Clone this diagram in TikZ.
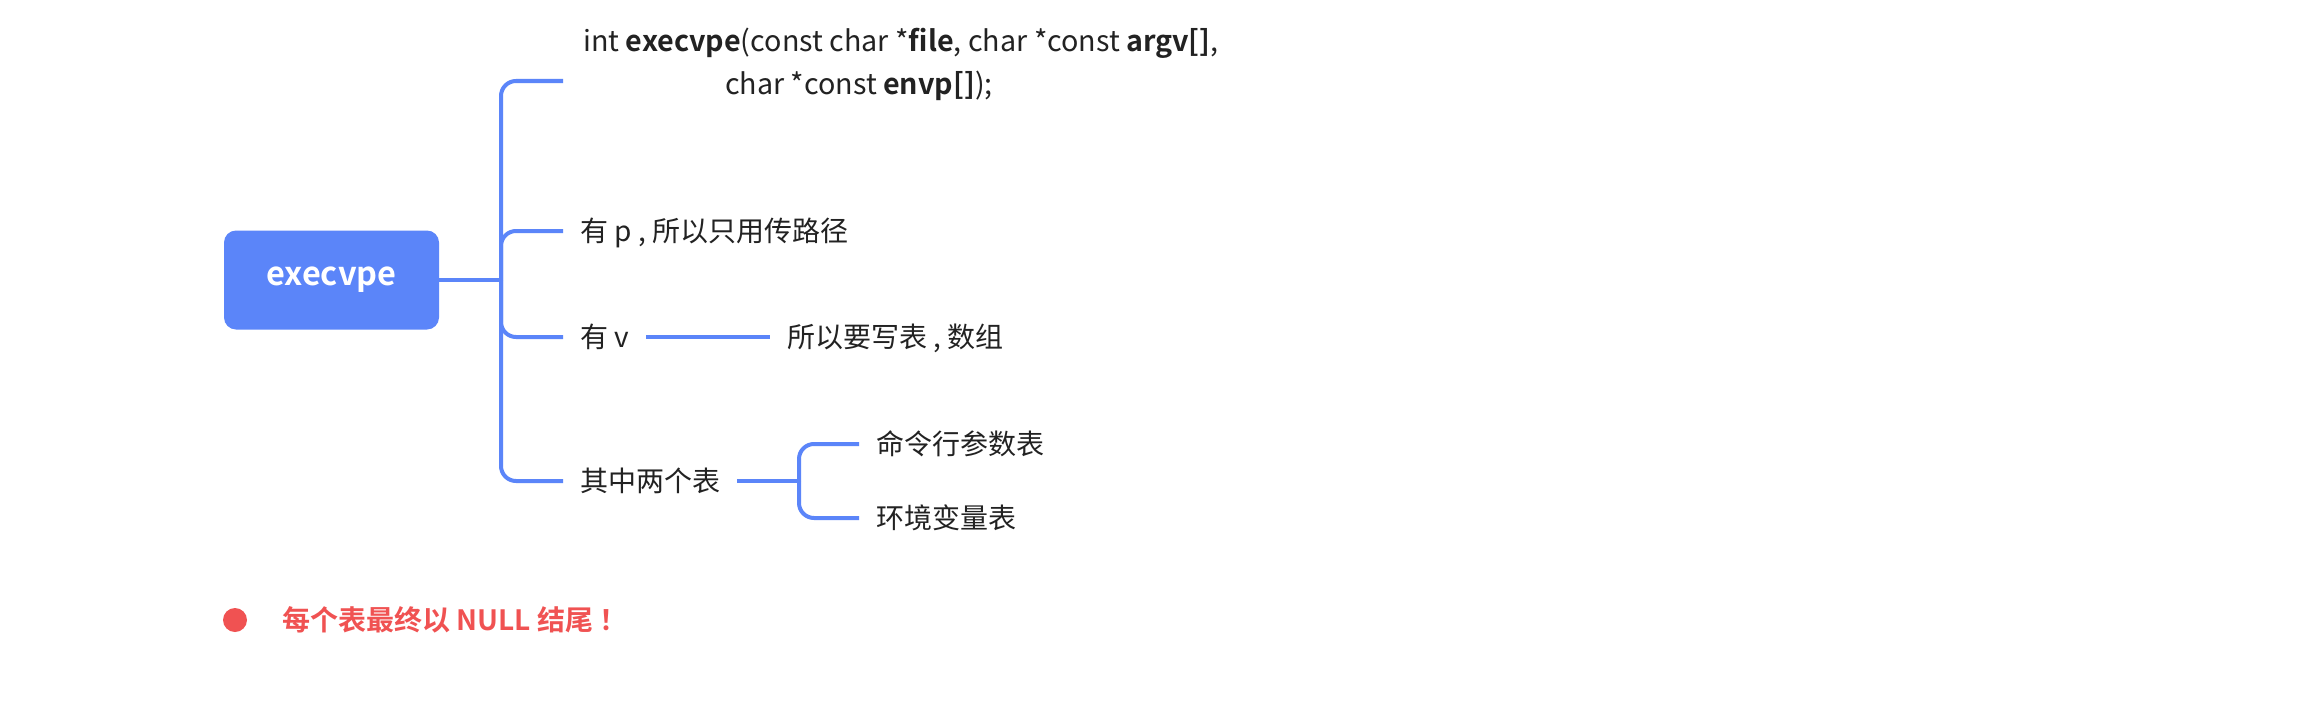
\documentclass[tikz,border=0pt]{standalone}
\usepackage{fontspec}
\setmainfont{Noto Sans CJK SC}[BoldFont={Noto Sans CJK SC Bold}]
\definecolor{mmblue}{HTML}{5B85F9}
\definecolor{mmred}{HTML}{F05252}
\definecolor{mmtext}{HTML}{222222}
\begin{document}
\begin{tikzpicture}[x=1pt,y=-1pt,
  conn/.style={draw=mmblue, line width=4pt, rounded corners=15pt},
  rootbox/.style={rectangle, rounded corners=12pt, fill=mmblue, text=white,
    font=\fontsize{32.5}{38}\selectfont\bfseries, minimum width=215pt, minimum height=99pt, inner sep=0pt},
  leaf/.style={anchor=west, inner xsep=17pt, inner ysep=0pt, text=mmtext,
    font=\fontsize{28}{42}\selectfont, text height=24pt, text depth=3pt},
  sig/.style={anchor=base west, inner sep=0pt, text=mmtext, align=left,
    font=\fontsize{28.7}{43}\selectfont},
  note/.style={anchor=west, inner sep=0pt, text=mmred, font=\fontsize{28}{34}\selectfont\bfseries}]
\useasboundingbox (0,0) rectangle (2305,701);
\fill[white] (0,0) rectangle (2305,701);
\node[rootbox] (root) at (331.5,280) {execvpe};
\coordinate (j) at (501,280);
\coordinate (c1) at (563,81);
\node[sig] (b1) at (583,94) {int \textbf{execvpe}(const char *\textbf{file}, char *const \textbf{argv[]},\\\hspace*{142pt}char *const \textbf{envp[]});};
\node[leaf] (b2) at (563,231) {有 p , 所以只用传路径};
\node[leaf] (b3) at (563,337) {有 v};
\node[leaf] (b3b) at (770,337) {所以要写表 , 数组};
\node[leaf] (b4) at (563,481) {其中两个表};
\coordinate (j4) at (799,481);
\node[leaf] (b41) at (859,444) {命令行参数表};
\node[leaf] (b42) at (859,518) {环境变量表};
\draw[conn] (root.east) -- (j);
\draw[conn] (j) -- (j |- c1) -- (c1);
\draw[conn] (j) -- (j |- b2.west) -- (b2.west);
\draw[conn] (j) -- (j |- b3.west) -- (b3.west);
\draw[conn] (j) -- (j |- b4.west) -- (b4.west);
\draw[conn] (b3.east) -- (b3b.west);
\draw[conn] (b4.east) -- (j4);
\draw[conn] (j4) -- (j4 |- b41.west) -- (b41.west);
\draw[conn] (j4) -- (j4 |- b42.west) -- (b42.west);
\node[circle, fill=mmred, minimum size=24pt, inner sep=0pt] (dot) at (235,620) {};
\node[note] (nt) at (282,620) {每个表最终以 NULL 结尾 ！};
\end{tikzpicture}
\end{document}
